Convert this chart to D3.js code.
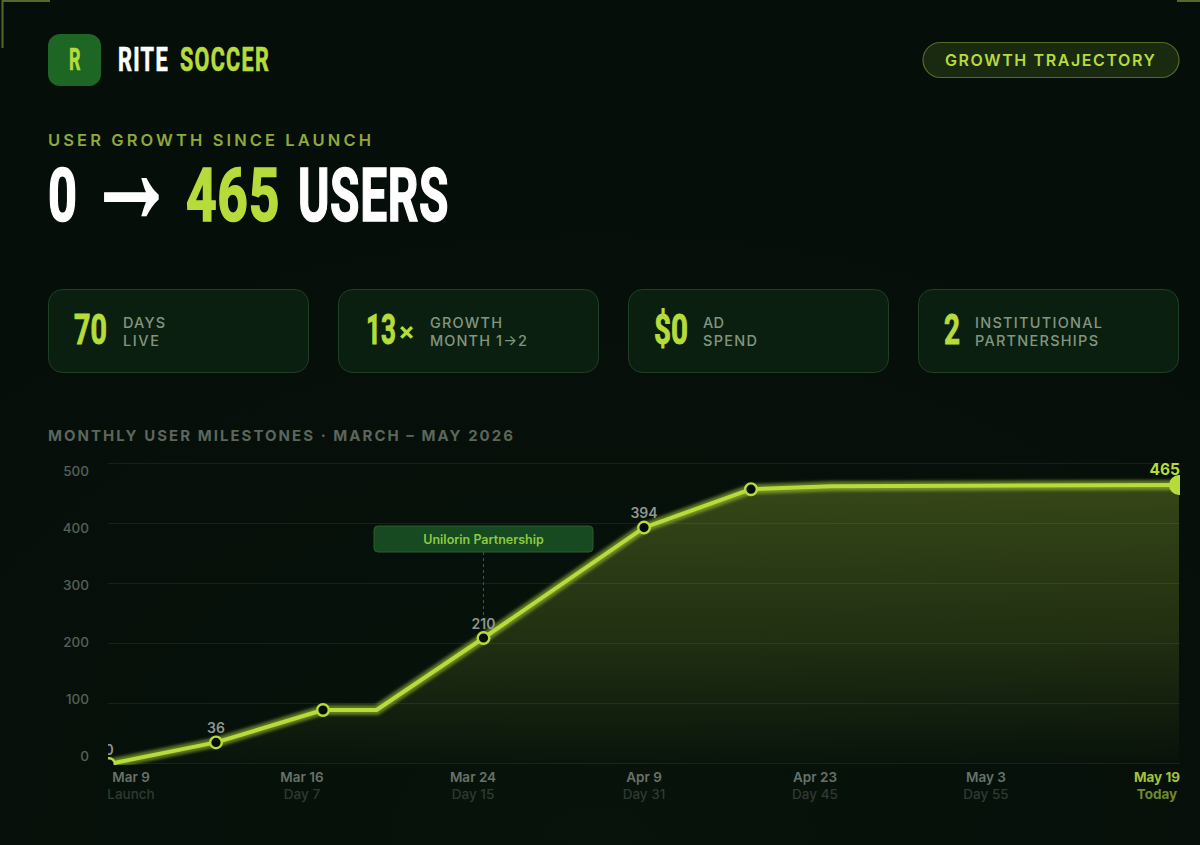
<!DOCTYPE html>
<html>
<head>
<meta charset="utf-8">
<script src="https://cdn.jsdelivr.net/npm/d3@7"></script>
<style>
  html, body { margin: 0; padding: 0; background: #060e0a; overflow: hidden; }
  svg { display: block; }
  text { font-family: Inter, "Noto Sans", sans-serif; }
  .narrow { font-family: "Liberation Sans Narrow", "Roboto", sans-serif; font-weight: 700; }
</style>
</head>
<body>
<div id="chart"></div>
<script>
// values
const steps = [0, 1, 2, 2.5, 3.5, 5, 6, 6.75, 10];
const users = [0, 36, 90, 90, 210, 394, 458, 463, 465];
const markers = [0, 1, 2, 4, 5, 6];
const pointLabels = ["0", "36", "", "", "210", "394", "", "", "465"];
const yTicks = [0, 100, 200, 300, 400, 500];
const dateLabels = ["Mar 9", "Mar 16", "Mar 24", "Apr 9", "Apr 23", "May 3", "May 19"];
const dayLabels = ["Launch", "Day 7", "Day 15", "Day 31", "Day 45", "Day 55", "Today"];
const statValues = ["70", "13", "$0", "2"];
const statSuffixes = ["", "×", "", ""];
const statLines = [["DAYS", "LIVE"], ["GROWTH", "MONTH 1→2"], ["AD", "SPEND"], ["INSTITUTIONAL", "PARTNERSHIPS"]];

const lime = "#b6dc3c";

const svg = d3.select("#chart").append("svg").attr("width", 1200).attr("height", 845);
const defs = svg.append("defs");

const bg = defs.append("radialGradient").attr("id", "bg").attr("cx", "50%").attr("cy", "100%").attr("r", "75%");
bg.append("stop").attr("offset", "0%").attr("stop-color", "#07130b");
bg.append("stop").attr("offset", "100%").attr("stop-color", "#060e09");

const areaGrad = defs.append("linearGradient").attr("id", "areaGrad").attr("x1", 0).attr("y1", 0).attr("x2", 0).attr("y2", 1);
areaGrad.append("stop").attr("offset", "0%").attr("stop-color", lime).attr("stop-opacity", 0.27);
areaGrad.append("stop").attr("offset", "55%").attr("stop-color", lime).attr("stop-opacity", 0.15);
areaGrad.append("stop").attr("offset", "100%").attr("stop-color", lime).attr("stop-opacity", 0.01);

defs.append("filter").attr("id", "glow").attr("x", "-5%").attr("y", "-20%").attr("width", "110%").attr("height", "140%")
  .append("feGaussianBlur").attr("stdDeviation", 1.5);

defs.append("clipPath").attr("id", "plotClip").append("rect")
  .attr("x", 108).attr("y", 440).attr("width", 1072).attr("height", 325);

svg.append("rect").attr("width", 1200).attr("height", 845).attr("fill", "url(#bg)");

// corner marks
svg.append("path").attr("d", "M50,1 H2.5 V48").attr("fill", "none").attr("stroke", "#56682a").attr("stroke-width", 2);
svg.append("path").attr("d", "M1177,1 H1200").attr("fill", "none").attr("stroke", "#56682a").attr("stroke-width", 2);

// plain text; tracked text is fitted to the width seen in the picture
function label(x, y, str, size, color, opts) {
  opts = opts || {};
  const t = svg.append("text")
    .attr("x", x).attr("y", y)
    .attr("font-size", size)
    .attr("fill", color)
    .attr("font-weight", opts.weight || 500)
    .attr("text-anchor", opts.anchor || "start")
    .text(str);
  if (opts.width) t.attr("textLength", opts.width);
  return t;
}

// condensed display text: squeeze a narrow face down to the seen width
function display(x, y, str, size, color, width, tracking, family) {
  const t = svg.append("text")
    .attr("class", "narrow")
    .attr("font-size", size)
    .attr("fill", color)
    .attr("stroke", color)
    .attr("stroke-width", size * 0.022)
    .style("letter-spacing", (tracking || 0) + "px")
    .text(str);
  if (family) t.style("font-family", family);
  const natural = t.node().getComputedTextLength();
  t.attr("transform", `translate(${x},${y}) scale(${width / natural},1)`);
  return t;
}

// header
svg.append("rect").attr("x", 48).attr("y", 34).attr("width", 53).attr("height", 52).attr("rx", 12).attr("fill", "#1d6623");
display(69, 70, "R", 32, lime, 11.5);
display(118, 71, "RITE", 33, "#ffffff", 51, 2);
display(180, 71, "SOCCER", 33, lime, 90, 2);

svg.append("rect").attr("x", 923).attr("y", 42.5).attr("width", 256).attr("height", 35).attr("rx", 17.5)
  .attr("fill", "#1a2a10").attr("stroke", "#56692b").attr("stroke-width", 1.2);
label(945, 66, "GROWTH TRAJECTORY", 16, lime, { weight: 600, width: 210 });

label(48, 146, "USER GROWTH SINCE LAUNCH", 16.5, "#8fa83c", { weight: 600, width: 323 });
display(48, 221, "0", 75, "#ffffff", 29);
display(87, 222, "→", 150, "#ffffff", 89, 0, '"Liberation Sans"');
display(186, 221, "465", 75, lime, 94, 1);
display(298, 221, "USERS", 75, "#ffffff", 151, 1);

// stat cards
const cardX = d3.scalePoint().domain(d3.range(statValues.length)).range([48, 918]);
const statOffsets = [26, 28, 26, 26];
const statWidths = [33, 30, 34, 16];
const statTextX = [75, 92, 75, 57];
const statLineWidths = [[42, 36], [72, 97], [21, 54], [127, 123]];
statValues.forEach((v, i) => {
  const x = cardX(i);
  svg.append("rect").attr("x", x + 0.5).attr("y", 289.5).attr("width", 260).attr("height", 83).attr("rx", 14)
    .attr("fill", "#0a1f0f").attr("stroke", "#1f4024");
  display(x + statOffsets[i], 344, v, 43, lime, statWidths[i]);
  if (statSuffixes[i]) label(x + 60, 340, statSuffixes[i], 25, lime, { weight: 700 });
  statLines[i].forEach((line, j) => {
    label(x + statTextX[i], 328 + j * 18, line, 14.5, "#83957f", { weight: 500, width: statLineWidths[i][j] });
  });
});

label(48, 441, "MONTHLY USER MILESTONES · MARCH – MAY 2026", 15, "#5b665c", { weight: 700, width: 465 });

// chart
const x = d3.scaleLinear().domain([0, 10]).range([109, 1179]);
const y = d3.scaleLinear().domain([0, 500]).range([764, 464]);
const yLabelPos = d3.scaleLinear().domain([0, 500]).range([761, 476]);
const xLabelPos = d3.scalePoint().domain(dateLabels).range([131, 1157]);

svg.append("g").selectAll("line").data(yTicks).enter().append("line")
  .attr("x1", 108).attr("x2", 1180)
  .attr("y1", d => y(d) - 0.5).attr("y2", d => y(d) - 0.5)
  .attr("stroke", "#ffffff").attr("stroke-opacity", 0.07);

svg.append("g").selectAll("text").data(yTicks).enter().append("text")
  .attr("x", 89).attr("y", d => yLabelPos(d))
  .attr("text-anchor", "end").attr("font-size", 13.5).attr("font-weight", 500)
  .attr("fill", "#566057").text(d => d);

const points = steps.map((s, i) => ({ step: s, users: users[i], label: pointLabels[i] }));
const lineGen = d3.line().x(d => x(d.step)).y(d => y(d.users));
const areaGen = d3.area().x(d => x(d.step)).y0(y(0)).y1(d => y(d.users));

const plot = svg.append("g").attr("clip-path", "url(#plotClip)");
plot.append("path").attr("d", areaGen(points)).attr("fill", "url(#areaGrad)");

plot.append("path").attr("d", lineGen(points)).attr("fill", "none")
  .attr("stroke", lime).attr("stroke-width", 10).attr("stroke-opacity", 0.5)
  .attr("stroke-linejoin", "round").attr("filter", "url(#glow)");
plot.append("path").attr("d", lineGen(points)).attr("fill", "none")
  .attr("stroke", lime).attr("stroke-width", 4).attr("stroke-linejoin", "round");

// annotation
const partner = points[4];
plot.append("line")
  .attr("x1", x(partner.step)).attr("x2", x(partner.step))
  .attr("y1", 552).attr("y2", 618)
  .attr("stroke", "#4a524a").attr("stroke-dasharray", "3,3");
svg.append("rect").attr("x", 374).attr("y", 526).attr("width", 219).attr("height", 26).attr("rx", 4)
  .attr("fill", "#174a20").attr("stroke", "#2a5e2e");
label(x(partner.step), 544, "Unilorin Partnership", 12.5, "#8ccb3f", { weight: 600, anchor: "middle" });

plot.selectAll("circle.marker").data(markers.map(i => points[i])).enter().append("circle")
  .attr("class", "marker")
  .attr("cx", d => x(d.step)).attr("cy", d => y(d.users)).attr("r", 5.8)
  .attr("fill", "#050c0a").attr("stroke", lime).attr("stroke-width", 2.4);

const last = points[points.length - 1];
plot.append("circle").attr("cx", x(last.step)).attr("cy", y(last.users)).attr("r", 10).attr("fill", lime);

plot.selectAll("text.value").data(points.filter(d => d.label && d !== last)).enter().append("text")
  .attr("class", "value")
  .attr("x", d => x(d.step)).attr("y", d => y(d.users) - 9.5)
  .attr("text-anchor", "middle").attr("font-size", 14).attr("font-weight", 600)
  .attr("fill", "#8f968f").text(d => d.label);

svg.append("g").attr("clip-path", "url(#plotClip)").append("text")
  .attr("x", 1180).attr("y", y(last.users) - 10)
  .attr("text-anchor", "end").attr("font-size", 15.5).attr("font-weight", 700)
  .attr("fill", lime).text(last.label);

// x labels
dateLabels.forEach((d, i) => {
  const end = i === dateLabels.length - 1;
  label(xLabelPos(d), 782, d, 13.5, end ? "#a2c23a" : "#697269", { weight: end ? 700 : 600, anchor: "middle" });
  label(xLabelPos(d), 799, dayLabels[i], 13.5, end ? "#6e8a2c" : "#303a31", { weight: end ? 700 : 500, anchor: "middle" });
});
</script>
</body>
</html>
